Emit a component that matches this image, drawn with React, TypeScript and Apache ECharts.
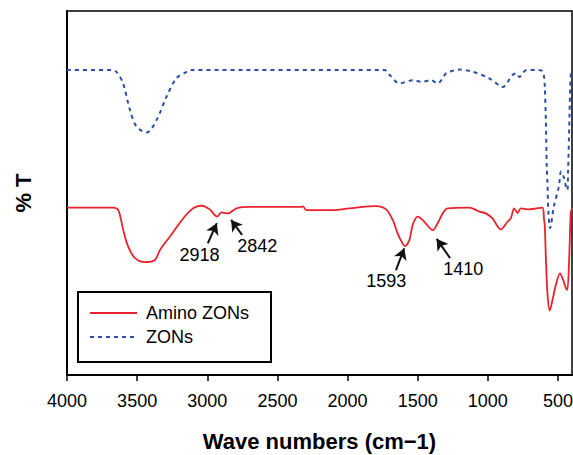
import React, { useEffect, useRef } from "react";
import * as echarts from "echarts";

const xTicks = [4000, 3500, 3000, 2500, 2000, 1500, 1000, 500];

const aminoWave = [4000, 3670, 3634, 3599, 3563, 3515, 3444, 3373, 3338, 3267, 3172, 3101, 3041, 2982, 2930, 2899, 2852, 2792, 2697, 2330, 2318, 2294, 2105, 1986, 1796, 1725, 1678, 1643, 1610, 1590, 1559, 1536, 1500, 1465, 1440, 1393, 1358, 1322, 1287, 1132, 1061, 1014, 967, 907, 860, 836, 812, 788, 764, 706, 611, 599, 594, 587, 575, 558, 539, 515, 486, 463, 443, 433, 421, 409, 400];
const aminoT = [46.0, 46.0, 45.3, 39.8, 35.2, 32.1, 31.0, 31.6, 34.3, 38.0, 43.0, 45.8, 46.5, 45.5, 43.5, 44.7, 44.4, 45.8, 46.2, 46.2, 46.3, 45.3, 45.3, 45.8, 46.4, 45.5, 42.6, 38.9, 36.3, 35.4, 37.1, 41.2, 43.5, 42.6, 41.5, 39.8, 41.7, 44.4, 45.8, 46.0, 44.9, 44.4, 43.0, 40.0, 42.1, 43.1, 45.8, 44.5, 45.8, 45.5, 46.0, 42.6, 41.2, 33.0, 22.5, 17.7, 20.6, 24.7, 27.9, 26.1, 23.8, 23.4, 31.0, 44.5, 45.9];

const zonWave = [4000, 3681, 3646, 3601, 3551, 3504, 3432, 3361, 3290, 3219, 3148, 3124, 1737, 1700, 1630, 1536, 1470, 1405, 1358, 1298, 1275, 1204, 1109, 990, 907, 895, 824, 796, 775, 729, 658, 611, 599, 594, 587, 580, 575, 568, 556, 530, 494, 478, 459, 443, 433, 428, 418, 409, 400];
const zonT = [83.8, 83.8, 83.2, 80.2, 72.8, 68.2, 66.6, 70.1, 76.5, 81.6, 83.3, 83.8, 83.8, 82.4, 80.1, 81.0, 80.5, 81.0, 80.1, 82.9, 83.3, 83.9, 83.3, 81.5, 79.2, 79.1, 82.4, 82.9, 81.9, 83.7, 83.8, 83.5, 81.9, 79.2, 71.0, 57.2, 52.7, 44.5, 40.3, 46.2, 51.7, 55.9, 54.4, 51.7, 50.8, 55.5, 70.9, 82.4, 83.2];

// annotation: label, arrow tail [x,y], arrow head [x,y], label position [x,y]
const annoLabels = ["2918", "2842", "1593", "1410"];
const annoTail = [[2996, 36.2], [2752, 38.5], [1655, 28.8], [1269, 32.1]];
const annoHead = [[2932, 41.7], [2830, 42.6], [1596, 34.8], [1365, 37.4]];
const annoText = [[3055, 33.0], [2643, 35.4], [1724, 25.8], [1176, 29.1]];

const FONT = "Liberation Sans, Arial, sans-serif";

export default function App() {
  const ref = useRef<HTMLDivElement>(null);
  useEffect(() => {
    if (!ref.current) return;
    const chart = echarts.init(ref.current, undefined, { renderer: "svg" });
    const amino = aminoWave.map((w, i) => [w, aminoT[i]]);
    const zon = zonWave.map((w, i) => [w, zonT[i]]);
    chart.setOption({
      animation: false,
      textStyle: { fontFamily: FONT },
      grid: {
        left: 67,
        right: 1,
        top: 11,
        bottom: 80,
        outerBoundsMode: "none",
        containLabel: false,
        show: true,
        borderColor: "#000",
        borderWidth: 1.5,
        backgroundColor: "transparent",
      },
      legend: {
        data: ["Amino ZONs", "ZONs"],
        orient: "vertical",
        left: 78,
        top: 292,
        borderColor: "#000",
        borderWidth: 2,
        padding: [12, 22, 16, 11],
        itemWidth: 47,
        itemHeight: 18,
        itemGap: 6,
        itemStyle: { opacity: 0 },
        textStyle: { fontSize: 18, color: "#000", fontFamily: FONT, padding: [0, 0, 0, 4] },
      },
      xAxis: {
        type: "value",
        inverse: true,
        min: 400,
        max: 4000,
        name: "Wave numbers (cm\u22121)",
        nameLocation: "middle",
        nameGap: 55,
        nameTextStyle: { fontSize: 22, fontWeight: "bold", color: "#000", fontFamily: FONT },
        axisLine: { show: true, onZero: false, lineStyle: { color: "#000", width: 2 } },
        axisTick: { show: true, customValues: xTicks, length: 6, lineStyle: { color: "#000", width: 1.5 } },
        axisLabel: {
          customValues: xTicks,
          fontSize: 18,
          color: "#000",
          margin: 17,
          fontFamily: FONT,
          formatter: (v: number) => String(v),
        },
        splitLine: { show: false },
      },
      yAxis: {
        type: "value",
        min: 0,
        max: 100,
        name: "% T",
        nameLocation: "middle",
        nameRotate: 90,
        nameGap: 33,
        nameTextStyle: { fontSize: 22, fontWeight: "bold", color: "#000", fontFamily: FONT },
        axisLine: { show: true, lineStyle: { color: "#000", width: 2 } },
        axisTick: { show: false },
        axisLabel: { show: false },
        splitLine: { show: false },
      },
      series: [
        {
          name: "Amino ZONs",
          type: "line",
          data: amino,
          smooth: 0.3,
          symbol: "none",
          lineStyle: { color: "#e8232b", width: 1.8 },
          itemStyle: { color: "#e8232b" },
          markLine: {
            silent: true,
            symbol: ["none", "arrow"],
            symbolSize: [10, 11],
            label: { show: false },
            lineStyle: { color: "#111", width: 2, type: "solid" },
            data: annoLabels.map((_, i) => [
              { coord: annoTail[i] },
              { coord: annoHead[i] },
            ]),
          },
          markPoint: {
            silent: true,
            symbol: "circle",
            symbolSize: 0,
            label: {
              show: true,
              position: "inside",
              formatter: "{b}",
              fontSize: 18,
              color: "#000",
              fontFamily: FONT,
            },
            data: annoLabels.map((l, i) => ({ name: l, coord: annoText[i] })),
          },
        },
        {
          name: "ZONs",
          type: "line",
          data: zon,
          smooth: 0.3,
          symbol: "none",
          lineStyle: { color: "#2f4fa6", width: 2, type: [4, 4] },
          itemStyle: { color: "#2f4fa6" },
        },
      ],
    });
    return () => chart.dispose();
  }, []);
  return (
    <div
      ref={ref}
      style={{ position: "fixed", left: 0, top: 0, width: 573, height: 455, background: "#fff" }}
    />
  );
}
